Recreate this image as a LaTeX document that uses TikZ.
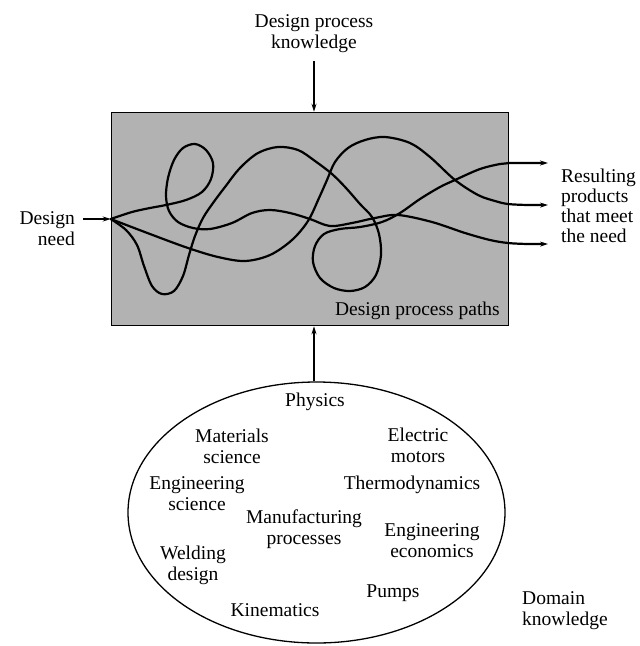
\documentclass[tikz,border=0pt]{standalone}
\usepackage{fontspec}
\setmainfont{Liberation Serif}
\usetikzlibrary{arrows.meta,shapes.geometric}
\definecolor{dither}{gray}{0.7}
\tikzset{
	lbl/.style={align=center, inner sep=0pt, font=\fontsize{19.5}{21}\selectfont},
	pathline/.style={line width=2.2pt, line cap=round, line join=round, -{Stealth[length=8pt,width=5pt]}},
	feed/.style={line width=1.2pt, -{Stealth[length=8pt,width=5pt]}},
}
\begin{document}
\begin{tikzpicture}[x=1pt,y=-1pt]
% 640 x 646 = page size, 1pt = 1px of the sketch, y runs down
\useasboundingbox (0,0) rectangle (640,646);
\fill[white] (0,0) rectangle (640,646);

% the shaded box, 397 x 213
\node[draw, line width=1.5pt, fill=dither, minimum width=397pt, minimum height=213pt, inner sep=0pt] (box) at (310,219) {};
\node[lbl, anchor=base east] (pathlbl) at (500,315) {Design process paths};

% inputs
\node[lbl] (dpk) at (314,34) {Design process\\knowledge};
\node[lbl, align=right, anchor=east] (need) at (75,229) {Design\\need};
\draw[feed] ([yshift=-8pt]dpk.south) -- (dpk.south |- box.north);
\draw[feed] ([xshift=8pt]need.east |- box.west) -- (box.west);

% outputs
\node[lbl, align=left, anchor=west, font=\fontsize{19.5}{20}\selectfont] (result) at (561,206) {Resulting\\products\\that meet\\the need};
\coordinate (out1) at (548,163);
\coordinate (out2) at (548,205);
\coordinate (out3) at (548,244);

% the three paths, all from the design need
% loop at top left, then wave to the lowest output
\draw[pathline] plot[smooth, tension=0.55] coordinates {(box.west) (132,212) (150,208) (166,205) (186,200) (202,192) (211,179) (213,163) (206,150) (195,144) (183,148) (174,160) (168,178) (166,196) (169,211) (178,222) (193,228) (210,229) (232,223) (252,213) (270,210) (290,213) (310,219) (330,226) (352,223) (375,218) (398,215) (432,222) (465,233) (490,240) (508,243) (528,244) (out3)};
% low sweep, up and over to the middle output
\draw[pathline] plot[smooth, tension=0.55] coordinates {(box.west) (150,234) (188,248) (218,257) (245,261) (270,255) (292,240) (308,221) (319,198) (327,180) (335,162) (348,148) (365,140) (385,137) (410,143) (430,157) (455,180) (478,195) (495,201) (508,204) (528,205) (out2)};
% drop at bottom left, arch, loop at bottom right, to the top output
\draw[pathline] plot[smooth, tension=0.55] coordinates {(box.west) (126,230) (137,245) (144,266) (152,286) (162,294) (174,291) (183,276) (189,255) (195,236) (203,218) (213,203) (225,187) (240,168) (258,153) (278,147) (298,150) (315,161) (332,174) (346,188) (360,204) (372,217) (379,234) (381,255) (376,275) (365,287) (350,291) (334,288) (320,278) (313,262) (315,246) (324,234) (340,229) (360,227) (382,222) (400,213) (420,199) (440,187) (455,180) (480,169) (500,164) (510,163) (528,163) (out1)};

% domain knowledge
\node[draw, ellipse, line width=1.3pt, minimum width=377pt, minimum height=261pt, inner sep=0pt] (domain) at (316.5,512.5) {};
\draw[feed] (domain.north -| dpk) -- (box.south -| dpk);
\foreach \pos/\name/\txt in {%
	{(315,402)}/physics/{Physics},
	{(232,446)}/matsci/{Materials\\science},
	{(418,445)}/elmotors/{Electric\\motors},
	{(197,494)}/engsci/{Engineering\\science},
	{(412,485)}/thermo/{Thermodynamics},
	{(304,529)}/manuf/{Manufacturing\\processes},
	{(432,541)}/engecon/{Engineering\\economics},
	{(193,565)}/welding/{Welding\\design},
	{(393,593)}/pumps/{Pumps},
	{(275,610)}/kinem/{Kinematics}}{
	\node[lbl] (\name) at \pos {\txt};
}
\node[lbl, align=left, anchor=west] (domknow) at (522,611) {Domain\\knowledge};
\end{tikzpicture}
\end{document}
